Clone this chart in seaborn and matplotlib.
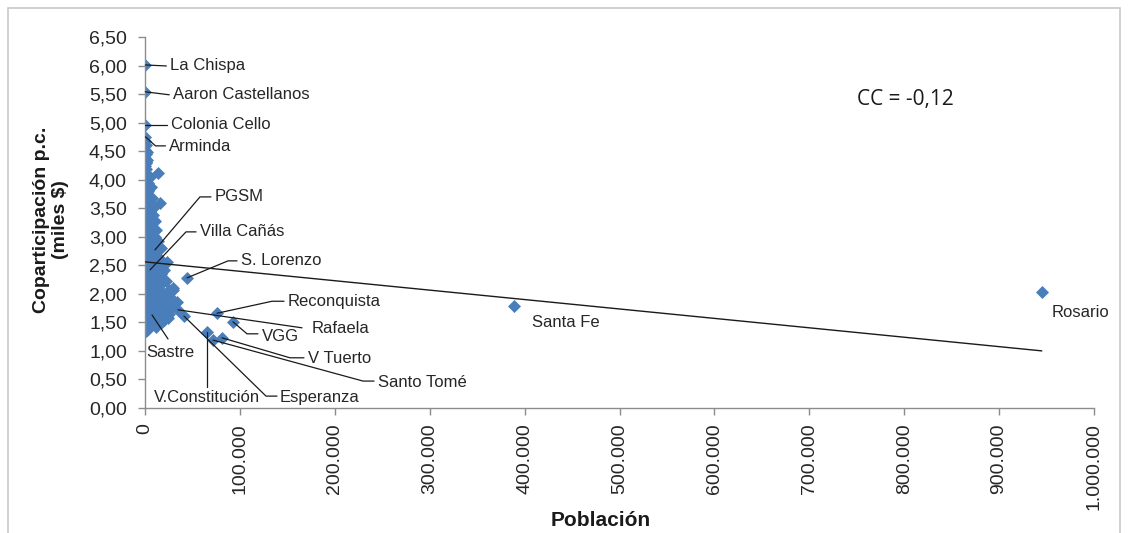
import numpy as np
import pandas as pd
import matplotlib
matplotlib.use("Agg")
import matplotlib.pyplot as plt
from matplotlib.patches import Rectangle
import seaborn as sns

# Localidades con etiqueta: población y coparticipación per cápita (miles $)
destacadas = ["La Chispa", "Aaron Castellanos", "Colonia Cello", "Arminda", "PGSM",
              "Villa Cañás", "S. Lorenzo", "Reconquista", "Rafaela", "VGG", "V Tuerto",
              "Santo Tomé", "V.Constitución", "Esperanza", "Sastre", "Santa Fe", "Rosario"]
pob_destacadas = [400, 300, 300, 500, 10500, 5300, 44300, 75900, 34800, 92700, 81100,
                  71700, 65300, 41100, 7400, 389000, 945000]
cop_destacadas = [6.01, 5.54, 4.96, 4.75, 2.77, 2.42, 2.28, 1.66, 1.72, 1.51, 1.23,
                  1.19, 1.33, 1.61, 1.63, 1.79, 2.03]

# Resto de las localidades (comunas y municipios pequeños)
pob_resto = [
    350, 700, 250, 1100, 450, 900, 300, 1500, 600, 1300, 400, 2000, 800, 300, 1600, 550,
    2400, 900, 350, 1800, 700, 2600, 400, 1200, 2200, 600, 1500, 300, 2800, 900, 1900, 450,
    3100, 1200, 700, 2400, 350, 1700, 3300, 800, 2100, 500, 2900, 1100, 3600, 600, 2300, 1400,
    400, 3000, 900, 2000, 600, 1500, 2600,
    1800, 2500, 1200, 13700, 2000, 5200, 3500, 6000, 2800, 4200, 7000, 2200, 15800, 3300, 9000,
    5000, 8000, 3800, 10500, 6200, 4500, 12000, 7500, 11000, 5500, 14000, 3500, 8500, 16500,
    6500, 10000, 4000, 12500, 7000, 18000, 23000, 9500, 5000, 14500, 6000, 20000, 11000, 4500,
    17000, 8000, 13000, 22000, 9000, 15500, 6500, 29000, 4000, 11500, 25000, 19000, 7500,
    26000, 13500, 4500, 21000, 9500, 32000, 16500, 6000, 27000, 12000, 19000, 8000, 14000,
    24000, 10500, 4000, 17500, 6500, 12000, 3500, 1000,
    5000, 8500, 11000, 18000, 23000, 28500, 30000, 5500, 9000, 15000, 21500, 25500, 11000,
    16000, 5000, 8000, 13000, 20000, 29500, 23000, 33700]
cop_resto = [
    4.68, 4.60, 4.52, 4.45, 4.38, 4.31, 4.24, 4.18, 4.12, 4.05, 3.98, 3.92, 3.86, 3.80, 3.74, 3.68,
    3.62, 3.56, 3.50, 3.44, 3.38, 3.32, 3.26, 3.20, 3.14, 3.08, 3.02, 2.96, 2.90, 2.84, 2.78, 2.72,
    2.66, 2.60, 2.54, 2.48, 2.42, 2.36, 2.30, 2.24, 2.18, 2.12, 2.06, 2.00, 1.94, 1.88, 1.82, 1.76,
    1.70, 1.64, 1.58, 1.52, 1.46, 1.41, 1.37,
    4.48, 4.35, 4.30, 4.11, 4.08, 4.05, 3.95, 3.88, 3.80, 3.72, 3.68, 3.65, 3.60, 3.55, 3.52,
    3.45, 3.38, 3.32, 3.28, 3.22, 3.18, 3.12, 3.06, 3.00, 2.96, 2.93, 2.90, 2.87, 2.80,
    2.78, 2.73, 2.70, 2.67, 2.62, 2.58, 2.55, 2.53, 2.51, 2.46, 2.44, 2.42, 2.38, 2.36,
    2.34, 2.32, 2.28, 2.22, 2.20, 2.16, 2.14, 2.11, 2.10, 2.08, 2.06, 2.02, 2.00,
    1.94, 1.92, 1.90, 1.88, 1.86, 1.84, 1.80, 1.78, 1.76, 1.74, 1.68, 1.66, 1.62,
    1.58, 1.55, 1.52, 1.50, 1.45, 1.42, 1.38, 1.35,
    1.95, 1.97, 1.90, 1.93, 1.84, 1.90, 1.80, 1.72, 1.78, 1.70, 1.72, 1.65, 1.62,
    1.58, 1.57, 1.48, 1.50, 1.55, 2.06, 1.94, 1.85]

# Recta de tendencia lineal (ordenada al origen y pendiente por habitante)
tendencia_ordenada = 2.56
tendencia_pendiente = -1.65e-6
coef_correlacion = "-0,12"

# Posición de cada etiqueta respecto de su punto (píxeles: derecha, abajo) y guía
etiquetas = {
    "La Chispa": ((25, 1), "left", [(0, 0), (21, 1)]),
    "Aaron Castellanos": ((28, 3), "left", [(0, 0), (24, 3)]),
    "Colonia Cello": ((26, 0), "left", [(0, 0), (22, 0)]),
    "Arminda": ((23, 10), "left", [(0, 0), (10, 9), (20, 9)]),
    "PGSM": ((60, -53), "left", [(0, 0), (45, -53), (56, -53)]),
    "Villa Cañás": ((50, -38), "left", [(0, 0), (36, -38), (46, -38)]),
    "S. Lorenzo": ((54, -17), "left", [(0, 0), (41, -17), (50, -17)]),
    "Reconquista": ((71, -12), "left", [(0, 0), (55, -12), (67, -12)]),
    "Rafaela": ((134, 19), "left", [(0, 0), (124, 18)]),
    "VGG": ((29, 15), "left", [(0, 0), (14, 12), (25, 12)]),
    "V Tuerto": ((86, 21), "left", [(0, 0), (68, 20), (82, 20)]),
    "Santo Tomé": ((165, 42), "left", [(0, 0), (150, 41), (161, 41)]),
    "V.Constitución": ((0, 65), "center", [(0, 0), (0, 55)]),
    "Esperanza": ((96, 81), "left", [(0, 0), (82, 80), (93, 80)]),
    "Sastre": ((18, 38), "center", [(0, 0), (16, 24)]),
    "Santa Fe": ((18, 17), "left", []),
    "Rosario": ((10, 20), "left", []),
}

df = pd.DataFrame({
    "Población": pob_destacadas + pob_resto,
    "Coparticipación": cop_destacadas + cop_resto,
})

sns.set_theme(style="white")
plt.rcParams["font.family"] = ["Liberation Sans", "DejaVu Sans"]

W, H = 1129, 533
fig = plt.figure(figsize=(W / 100, H / 100), dpi=100)
ax = fig.add_axes([145 / W, 1 - 408 / H, (1094 - 145) / W, (408 - 37) / H])

sns.scatterplot(data=df, x="Población", y="Coparticipación", marker="D", s=44,
                color="#4A7EBB", linewidth=0, ax=ax, zorder=2, legend=False)

x_tend = np.array([df["Población"].min(), df["Población"].max()])
sns.lineplot(x=x_tend, y=tendencia_ordenada + tendencia_pendiente * x_tend,
             color="#1a1a1a", lw=1.0, zorder=3, ax=ax)

ax.set_xlim(0, 1_000_000)
ax.set_ylim(0, 6.5)
ax.set_xticks(np.arange(0, 1_000_001, 100_000))
ax.set_yticks(np.arange(0, 6.51, 0.5))
ax.set_xticklabels([f"{int(v):,}".replace(",", ".") for v in ax.get_xticks()],
                   rotation=90, fontsize=14, color="#262626")
ax.set_yticklabels([f"{v:.2f}".replace(".", ",") for v in ax.get_yticks()],
                   fontsize=14, color="#262626")
ax.tick_params(axis="both", which="major", direction="out", length=5, width=1,
               color="#8c8c8c", left=True, bottom=True)
ax.tick_params(axis="y", pad=8)
ax.tick_params(axis="x", pad=6)

for side in ("top", "right"):
    ax.spines[side].set_visible(False)
for side in ("left", "bottom"):
    ax.spines[side].set_color("#8c8c8c")
    ax.spines[side].set_linewidth(1)

ax.set_xlabel("Población", fontsize=15, fontweight="bold", color="#1a1a1a")
ax.set_ylabel("Coparticipación p.c.\n(miles $)", fontsize=14, fontweight="bold",
              color="#1a1a1a", linespacing=1.1)
ax.xaxis.label.set_va("center")
ax.yaxis.label.set_va("center")
ax.xaxis.set_label_coords((601 - 145) / (1094 - 145), -(520 - 408) / (408 - 37))
ax.yaxis.set_label_coords(-(145 - 51) / (1094 - 145), (408 - 220) / (408 - 37))

# Etiquetas y líneas guía, desplazadas en píxeles desde cada punto
to_disp = ax.transData.transform
to_data = ax.transData.inverted().transform
for nombre, x, y in zip(destacadas, pob_destacadas, cop_destacadas):
    (tdx, tdy), ha, guia = etiquetas[nombre]
    px, py = to_disp((x, y))
    if guia:
        verts = to_data([(px + dx, py - dy) for dx, dy in guia])
        ax.plot(verts[:, 0], verts[:, 1], color="#1a1a1a", lw=0.9, zorder=4,
                clip_on=False)
    tx, ty = to_data((px + tdx, py - tdy))
    ax.text(tx, ty, nombre, ha=ha, va="center", fontsize=12, color="#262626",
            zorder=5, clip_on=False)

ax.text(905 / W, 1 - 100 / H, f"CC = {coef_correlacion}", transform=fig.transFigure,
        ha="center", va="center", fontsize=15, color="#1a1a1a",
        family=["Open Sans", "DejaVu Sans"])

fig.patches.append(Rectangle((8 / W, -0.02), (1120 - 8) / W, 1.02 - 8 / H,
                             transform=fig.transFigure, fill=False,
                             edgecolor="#c8c8c8", lw=1.2))

fig.savefig("out.png", dpi=100, facecolor="white")
